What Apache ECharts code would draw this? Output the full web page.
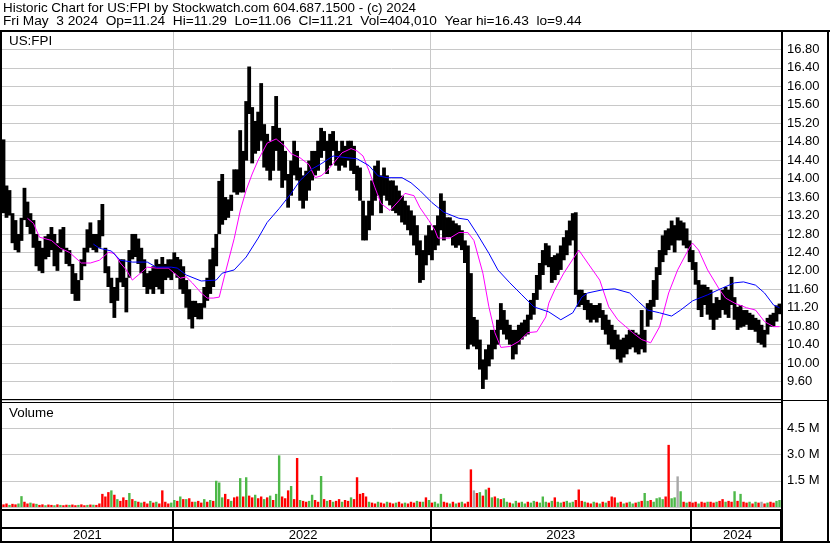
<!DOCTYPE html>
<html><head><meta charset="utf-8">
<script src="https://cdn.jsdelivr.net/npm/echarts@6/dist/echarts.min.js"></script>
<style>html,body{margin:0;padding:0;background:#fff}#c{width:830px;height:543px}</style>
</head><body><div id="c"></div><script>
// ---- text ----
const headerLine1 = 'Historic Chart for US:FPI by Stockwatch.com 604.687.1500 - (c) 2024';
const headerLine2 = 'Fri May  3 2024  Op=11.24  Hi=11.29  Lo=11.06  Cl=11.21  Vol=404,010  Year hi=16.43  lo=9.44';
const symbolLabel = 'US:FPI';
const volumeLabel = 'Volume';

// ---- categories: 3-trading-day bars grouped by year ----
const yearNames = ['2021', '2022', '2023', '2024'];
const barsPerYear = [57, 86, 87, 30];

// ---- price high / low per bar ----
const priceHigh = [
14.85,13.85,13.75,13.25,13.10,12.80,13.15,13.80,13.50,13.25,
13.10,12.80,12.65,12.50,12.75,12.80,12.95,12.80,12.60,12.90,
12.95,12.50,12.45,12.15,11.95,11.80,12.25,12.50,12.90,13.05,
12.80,12.80,13.10,13.45,12.50,12.10,11.85,11.65,11.85,12.25,
12.25,11.85,12.45,12.80,12.80,12.70,12.50,12.25,11.95,12.00,
12.10,12.25,12.15,12.30,12.15,12.25,12.25,12.40,12.30,12.25,
12.10,11.80,11.60,11.35,11.35,11.30,11.30,11.65,11.85,12.25,
12.50,12.80,13.95,14.10,13.60,13.55,13.65,14.20,14.20,15.05,
14.60,15.68,16.43,15.55,15.25,15.45,16.07,15.18,14.97,14.82,
15.14,15.79,15.10,14.82,14.60,14.10,14.39,14.82,14.60,14.24,
14.07,14.17,14.39,14.60,14.60,14.82,15.10,15.03,14.82,14.97,
15.03,14.82,14.60,14.82,14.71,14.82,14.82,14.71,14.28,14.24,
13.52,13.20,13.52,13.96,14.28,14.39,14.07,14.24,14.07,13.96,
13.96,13.85,13.74,13.63,13.52,13.42,13.31,13.20,12.99,12.66,
12.45,12.77,12.99,12.88,12.99,13.20,13.68,13.52,13.16,13.16,
13.09,13.03,12.99,12.88,12.66,12.55,11.95,11.00,10.94,10.51,
10.08,10.30,10.40,10.72,10.72,10.94,11.30,11.15,10.94,10.83,
10.72,10.72,10.83,10.88,10.94,11.05,11.37,11.52,11.91,12.17,
12.45,12.60,12.55,12.30,12.34,12.38,12.55,12.73,12.88,13.09,
13.25,13.27,11.59,11.59,11.52,11.37,11.30,11.26,11.26,11.30,
11.15,11.05,10.94,10.83,10.72,10.62,10.51,10.55,10.62,10.72,
10.72,10.66,10.62,11.15,10.72,11.30,11.37,11.80,12.08,12.45,
12.77,12.88,12.92,13.09,12.99,13.16,13.09,13.05,12.92,12.66,
12.45,12.19,11.80,11.70,11.70,11.65,11.59,11.30,11.43,11.37,
11.59,11.65,11.59,11.87,11.43,11.22,11.26,11.15,11.15,11.09,
11.05,10.98,10.94,10.83,10.72,10.98,11.05,11.09,11.25,11.29];
const priceLow = [
13.25,13.15,13.20,12.60,12.45,12.40,12.65,13.10,12.95,12.80,
12.50,12.10,12.00,11.95,12.25,12.30,12.45,12.10,12.00,12.40,
12.45,12.15,12.10,11.50,11.35,11.35,11.80,12.10,12.40,12.50,
12.45,12.40,12.50,12.75,11.95,11.65,11.30,10.98,11.35,11.75,
11.65,11.10,11.85,12.25,12.30,12.15,11.95,11.65,11.50,11.60,
11.50,11.65,11.60,11.50,11.80,11.85,11.80,11.95,11.85,11.60,
11.50,11.20,10.95,10.75,11.00,10.95,10.95,11.20,11.35,11.50,
11.65,12.10,12.80,13.00,13.10,13.15,13.30,13.70,13.65,13.70,
13.70,14.39,15.40,14.33,14.54,14.60,14.82,14.24,14.17,13.96,
14.17,14.60,14.17,13.80,13.96,13.37,13.63,14.07,13.96,13.52,
13.35,13.52,13.74,13.96,14.07,14.17,14.45,14.60,14.10,14.28,
14.60,14.28,14.17,14.28,14.24,14.39,14.17,14.10,13.74,13.52,
12.66,12.66,12.88,13.20,13.52,13.63,13.25,13.63,13.52,13.42,
13.30,13.25,13.20,13.05,13.00,12.88,12.77,12.55,12.34,11.74,
11.80,12.12,12.34,12.23,12.45,12.55,12.88,12.66,12.73,12.73,
12.55,12.50,12.55,12.45,12.17,10.30,10.40,10.36,10.30,9.86,
9.44,9.64,9.93,10.08,10.30,10.40,10.72,10.62,10.51,10.40,
10.08,10.19,10.40,10.51,10.58,10.62,10.94,11.05,11.37,11.59,
11.91,12.12,12.08,11.74,11.80,11.91,12.02,12.23,12.34,12.55,
12.66,11.48,11.22,11.26,11.15,10.94,10.88,10.94,10.88,10.98,
10.72,10.62,10.40,10.30,10.30,10.08,10.01,10.12,10.19,10.30,
10.34,10.23,10.19,10.30,10.23,10.79,10.94,11.22,11.37,11.91,
12.19,12.34,12.45,12.55,12.40,12.66,12.66,12.55,12.49,12.19,
12.02,11.70,11.15,11.00,11.26,11.05,10.94,10.72,10.94,10.98,
11.15,11.05,10.98,11.26,10.94,10.72,10.77,10.79,10.83,10.72,
10.72,10.68,10.44,10.40,10.34,10.62,10.79,10.79,10.90,11.06];

// ---- moving averages: [bar index, value] ----
const maShort = [[8,13.14],[10,13.03],[12,12.73],[16,12.66],[19,12.49],[22,12.40],[26,12.17],[29,12.17],[32,12.23],[35,12.40],[37,12.38],[39,12.17],[41,12.02],[43,11.80],[45,11.91],[48,12.08],[51,12.06],[55,12.06],[57,11.95],[59,11.84],[61,11.87],[63,11.74],[66,11.52],[68,11.41],[70,11.41],[72,11.43],[74,11.95],[77,12.70],[79,13.30],[81,13.75],[83,14.10],[85,14.40],[88,14.77],[91,14.86],[94,14.70],[96,14.54],[99,14.45],[102,14.30],[104,14.02],[106,14.06],[108,14.17],[110,14.32],[113,14.56],[116,14.65],[118,14.60],[120,14.49],[122,14.17],[124,13.80],[126,13.46],[129,13.31],[132,13.52],[134,13.68],[137,13.63],[139,13.37],[142,13.09],[144,12.88],[145,12.71],[147,12.71],[149,12.71],[152,12.83],[155,12.83],[157,12.66],[160,11.95],[162,11.22],[164,10.66],[166,10.34],[169,10.36],[172,10.47],[175,10.66],[178,10.68],[181,11.00],[182,11.30],[184,11.59],[187,11.95],[192,12.45],[195,12.17],[199,11.80],[202,11.22],[205,10.94],[210,10.66],[213,10.51],[216,10.44],[219,10.79],[222,11.52],[225,12.02],[229,12.51],[230,12.60],[232,12.45],[235,12.02],[239,11.59],[241,11.41],[244,11.30],[248,11.20],[251,11.15],[254,10.90],[257,10.79],[259,10.79]];
const maLong = [[30,12.58],[32,12.49],[36,12.43],[39,12.23],[43,12.19],[48,12.19],[51,12.08],[56,12.08],[58,12.06],[61,11.91],[66,11.78],[71,11.80],[73,11.95],[77,12.02],[81,12.30],[85,12.71],[88,13.05],[92,13.35],[96,13.68],[99,13.96],[103,14.21],[106,14.32],[110,14.49],[115,14.45],[118,14.43],[122,14.28],[125,14.06],[128,14.02],[133,14.02],[136,13.91],[139,13.74],[143,13.48],[147,13.27],[152,13.14],[155,13.11],[158,12.81],[162,12.38],[165,12.02],[169,11.74],[173,11.48],[177,11.22],[182,11.11],[186,10.94],[190,11.09],[193,11.43],[195,11.52],[200,11.59],[204,11.61],[209,11.52],[212,11.33],[215,11.15],[219,11.09],[223,11.02],[226,11.15],[230,11.35],[235,11.48],[240,11.63],[244,11.74],[247,11.76],[251,11.69],[254,11.52],[257,11.26],[259,11.20]];

// ---- volume (millions) and direction (u up, d down, n unchanged) ----
const volume = [
0.15,0.20,0.12,0.18,0.15,0.20,0.62,0.30,0.20,0.25,
0.20,0.18,0.12,0.15,0.10,0.14,0.12,0.10,0.15,0.12,
0.10,0.13,0.12,0.14,0.10,0.12,0.15,0.10,0.12,0.14,
0.13,0.12,0.20,0.75,0.60,0.85,0.95,0.70,0.45,0.35,
0.55,0.40,0.80,0.45,0.35,0.30,0.25,0.30,0.20,0.35,
0.25,0.30,0.20,0.95,0.30,0.20,0.25,0.40,0.35,0.60,
0.45,0.45,0.50,0.30,0.30,0.35,0.25,0.45,0.30,0.40,
0.35,1.50,1.40,0.55,0.75,0.45,0.35,0.55,0.60,1.65,
0.60,1.70,0.65,0.55,0.70,0.50,0.60,0.45,0.55,0.65,
0.40,0.75,2.95,0.60,0.50,0.95,1.20,0.45,2.80,0.40,
0.35,0.30,0.35,0.70,0.40,0.30,1.77,0.45,0.35,0.40,
0.30,0.35,0.45,0.30,0.40,0.35,0.55,0.45,1.70,0.75,
0.80,0.60,0.30,0.25,0.20,0.30,0.25,0.20,0.30,0.25,
0.20,0.25,0.30,0.20,0.25,0.20,0.30,0.25,0.35,0.30,
0.30,0.55,0.40,0.25,0.30,0.20,0.75,0.30,0.25,0.20,
0.30,0.20,0.25,0.30,0.20,0.30,2.15,0.95,0.80,0.85,
0.65,1.00,1.10,0.55,0.60,0.50,0.45,0.50,0.30,0.25,
0.20,0.35,0.25,0.30,0.20,0.30,0.25,0.35,0.30,0.25,
0.60,0.30,0.25,0.35,0.55,0.30,0.25,0.30,0.35,0.25,
0.30,0.40,1.00,0.35,0.30,0.25,0.20,0.30,0.25,0.20,
0.30,0.25,0.35,0.60,0.55,0.25,0.30,0.20,0.25,0.30,
0.20,0.25,0.30,0.35,0.80,0.35,0.40,0.30,0.50,0.55,
0.45,0.60,3.55,0.50,0.55,1.75,0.90,0.30,0.25,0.30,
0.25,0.30,0.20,0.30,0.25,0.30,0.30,0.25,0.30,0.35,
0.45,0.30,0.35,0.30,0.90,0.35,0.75,0.30,0.25,0.30,
0.20,0.30,0.25,0.30,0.20,0.25,0.30,0.25,0.35,0.40];
const volumeDir = 'ddudduuddu' + 'dudduddudu' + 'ddudduddud' + 'udddddudud' + 'ddudududdu' +
  'dudddduudu' + 'dudduddudu' + 'duuudduddu' + 'dudduddudu' + 'duuddduddu' +
  'dduuddudud' + 'uddudduddd' + 'ddudduddud' + 'duddudddud' + 'ududuuuddu' +
  'dududddndu' + 'dudududuud' + 'uuduuduudu' + 'uududuuduu' + 'uddduddudu' +
  'dudddududu' + 'ududuuduuu' + 'udduunudud' + 'ddudduddud' + 'duddududdu' + 'dudndudduu';

// ---- derived structures ----
const categories = [];
const yearStart = [];
let acc = 0;
yearNames.forEach((y, k) => {
  yearStart.push(acc);
  for (let j = 0; j < barsPerYear[k]; j++) categories.push(y + '/' + (j + 1));
  acc += barsPerYear[k];
});
const yearBounds = yearStart.slice(1);
const yearMid = yearStart.map((s, k) => s + Math.floor(barsPerYear[k] / 2));
const priceData = priceHigh.map((h, i) => [i, priceLow[i], h]);
const dirColor = { u: '#4db848', d: '#ff0000', n: '#a8a8a8' };
const volumeData = volume.map((v, i) => ({ value: v, itemStyle: { color: dirColor[volumeDir[i]] || '#ff0000' } }));

const FONT = "'Liberation Sans', Arial, sans-serif";
const GRID_GRAY = '#c8c8c8';
const boundaryFn = (idx) => yearBounds.indexOf(idx) >= 0;

const chart = echarts.init(document.getElementById('c'), null, { renderer: 'canvas' });
const L = 2, R = 49;

function hline(x1, x2, y, w) { return { type: 'line', z: 100, silent: true, shape: { x1, y1: y, x2, y2: y }, style: { stroke: '#000', lineWidth: w } }; }
function vline(x, y1, y2, w) { return { type: 'line', z: 100, silent: true, shape: { x1: x, y1, x2: x, y2 }, style: { stroke: '#000', lineWidth: w } }; }
function txt(x, y, s, size) { return { type: 'text', z: 100, silent: true, x, y, style: { text: s, font: size + 'px ' + FONT, fill: '#000', textVerticalAlign: 'middle' } }; }

chart.setOption({
  animation: false,
  backgroundColor: '#fff',
  grid: [
    { left: L, right: R, top: 31, height: 369 },
    { left: L, right: R, top: 402, height: 105 },
    { left: L, right: R, top: 510, height: 18 }
  ],
  xAxis: [
    { type: 'category', gridIndex: 0, data: categories, boundaryGap: true,
      axisLine: { show: false }, axisTick: { show: false }, axisLabel: { show: false },
      splitLine: { show: true, interval: boundaryFn, lineStyle: { color: GRID_GRAY, width: 1 } } },
    { type: 'category', gridIndex: 1, data: categories, boundaryGap: true,
      axisLine: { show: false }, axisTick: { show: false }, axisLabel: { show: false },
      splitLine: { show: true, interval: boundaryFn, lineStyle: { color: GRID_GRAY, width: 1 } } },
    { type: 'category', gridIndex: 2, data: categories, boundaryGap: true,
      axisLine: { show: true, lineStyle: { color: '#000', width: 2 } },
      axisTick: { show: true, interval: boundaryFn, length: 14, lineStyle: { color: '#000', width: 2 } },
      axisLabel: { show: true, interval: (idx) => yearMid.indexOf(idx) >= 0, margin: 1,
        formatter: (v) => v.split('/')[0], fontFamily: FONT, fontSize: 13, color: '#000' },
      splitLine: { show: true, interval: boundaryFn, lineStyle: { color: '#000', width: 2 } } }
  ],
  yAxis: [
    { type: 'value', gridIndex: 0, position: 'right', min: 9.2, max: 17.2, interval: 0.4,
      axisLine: { show: false }, axisTick: { show: false },
      axisLabel: { margin: 6, fontFamily: FONT, fontSize: 13, color: '#000',
        formatter: (v) => (v < 9.5 || v > 16.9) ? '' : v.toFixed(2) },
      splitLine: { show: true, lineStyle: { color: GRID_GRAY, width: 1 } } },
    { type: 'value', gridIndex: 1, position: 'right', min: 0, max: 6, interval: 1.5,
      axisLine: { show: false }, axisTick: { show: false },
      axisLabel: { margin: 6, fontFamily: FONT, fontSize: 13, color: '#000',
        formatter: (v) => (v <= 0 || v >= 6) ? '' : v.toFixed(1) + ' M' },
      splitLine: { show: true, lineStyle: { color: GRID_GRAY, width: 1 } } },
    { type: 'value', gridIndex: 2, show: false, min: 0, max: 1, splitLine: { show: false } }
  ],
  series: [
    { type: 'custom', name: 'Price', xAxisIndex: 0, yAxisIndex: 0, data: priceData,
      encode: { x: 0, y: [1, 2] }, clip: true,
      renderItem: (params, api) => {
        const i = api.value(0);
        const a = api.coord([i, api.value(1)]);
        const b = api.coord([i, api.value(2)]);
        const w = api.size([1, 0])[0];
        return { type: 'rect', shape: { x: a[0] - w / 2 - 0.4, y: b[1], width: w + 0.8, height: Math.max(1, a[1] - b[1]) },
          style: { fill: '#000' } };
      } },
    { type: 'line', name: 'MA short', xAxisIndex: 0, yAxisIndex: 0, data: maShort, symbol: 'none',
      lineStyle: { color: '#ff00ff', width: 1 }, z: 5 },
    { type: 'line', name: 'MA long', xAxisIndex: 0, yAxisIndex: 0, data: maLong, symbol: 'none',
      lineStyle: { color: '#0000ff', width: 1 }, z: 5 },
    { type: 'bar', name: 'Volume', xAxisIndex: 1, yAxisIndex: 1, data: volumeData, barWidth: 2.4 }
  ],
  graphic: [
    txt(3, 8, headerLine1, 13.4),
    txt(3, 21, headerLine2, 13.7),
    txt(9, 41, symbolLabel, 13.4),
    txt(9, 413, volumeLabel, 13.4),
    hline(0, 830, 31, 2),
    vline(1, 30, 543, 2),
    vline(782, 30, 543, 2),
    vline(828, 30, 543, 2),
    hline(0, 782, 399.5, 1),
    hline(0, 782, 402.5, 1),
    hline(782, 829, 400.5, 1),
    hline(0, 782, 510, 2),
    hline(0, 782, 528, 2),
    hline(0, 830, 542, 2)
  ]
});
</script></body></html>
